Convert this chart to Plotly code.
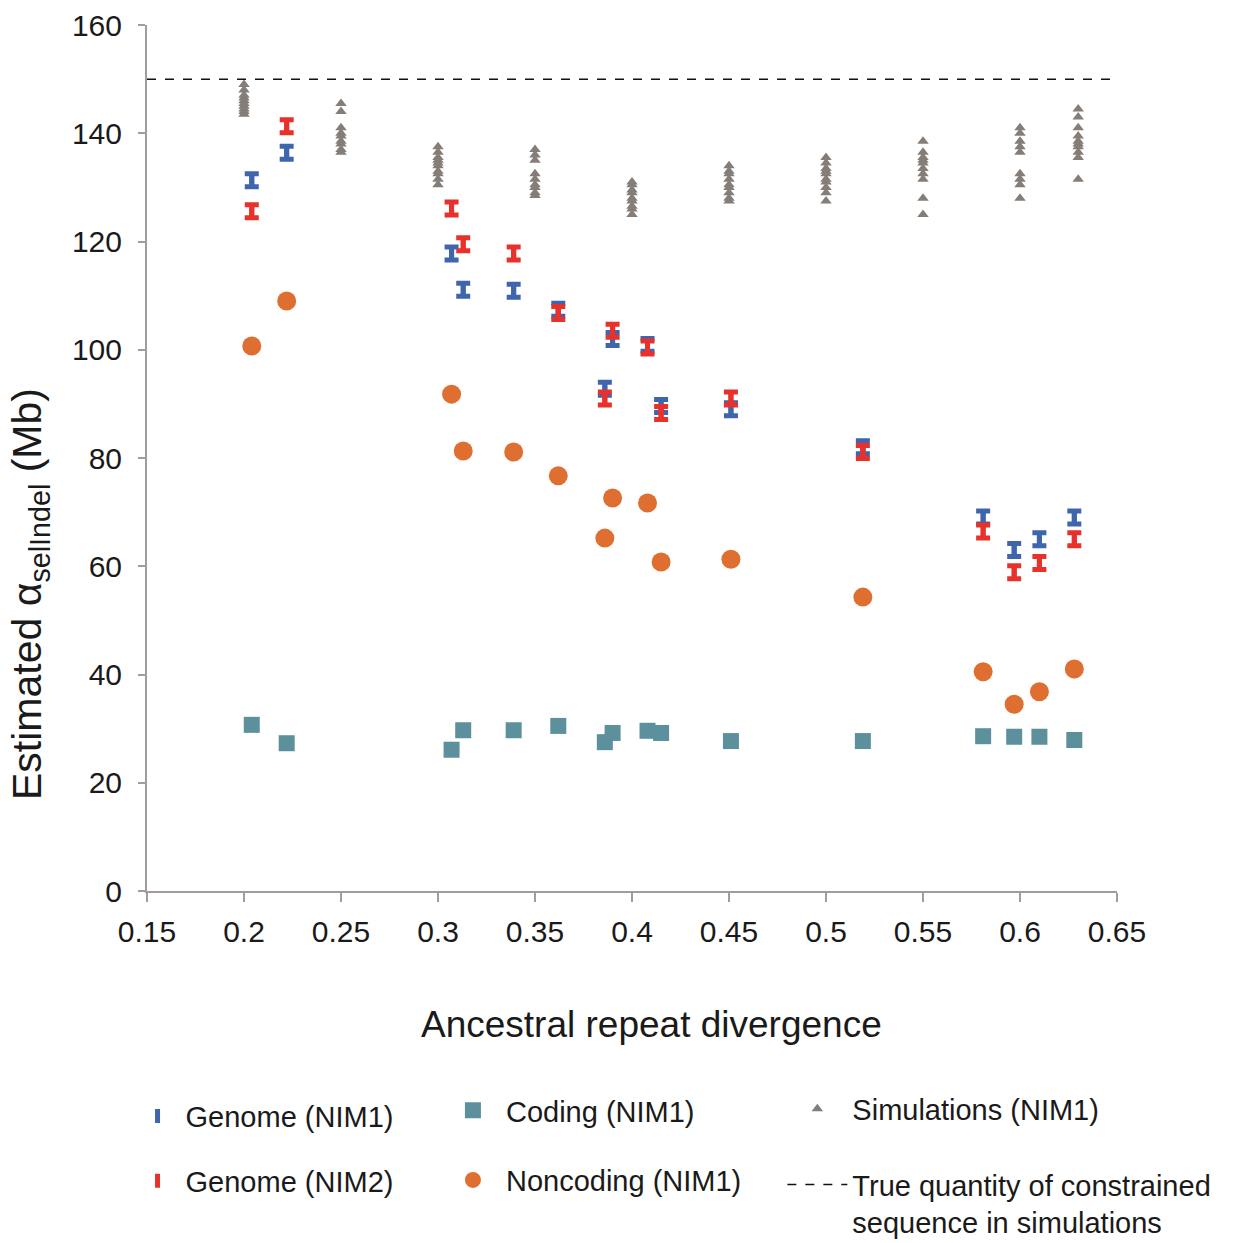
import plotly.graph_objects as go

# Ancestral repeat divergence of each lineage comparison
divergence = [0.204, 0.222, 0.307, 0.313, 0.339, 0.362, 0.386, 0.390,
              0.408, 0.415, 0.451, 0.519, 0.581, 0.597, 0.610, 0.628]

# Estimated constrained sequence (Mb)
genome_nim1 = [131.3, 136.4, 117.8, 111.1, 110.9, 107.4, 92.8, 102.0,
               100.9, 89.6, 89.0, 82.0, 69.0, 63.0, 65.0, 69.0]
genome_nim2 = [125.6, 141.3, 126.1, 119.5, 117.8, 106.8, 91.0, 103.5,
               100.4, 88.3, 91.0, 81.1, 66.4, 58.9, 60.6, 65.0]
genome_nim1_err = [1.2, 1.2, 1.2, 1.2, 1.2, 1.2, 1.2, 1.2,
                   1.2, 1.2, 1.2, 1.2, 1.2, 1.2, 1.2, 1.2]
genome_nim2_err = [1.2, 1.2, 1.2, 1.2, 1.2, 1.2, 1.2, 1.2,
                   1.2, 1.2, 1.2, 1.2, 1.2, 1.2, 1.2, 1.2]
coding_nim1 = [30.7, 27.3, 26.1, 29.7, 29.7, 30.5, 27.5, 29.2,
               29.6, 29.2, 27.7, 27.7, 28.6, 28.5, 28.5, 27.9]
noncoding_nim1 = [100.7, 109.0, 91.8, 81.3, 81.1, 76.7, 65.2, 72.6,
                  71.7, 60.8, 61.3, 54.3, 40.5, 34.5, 36.8, 41.0]

# Simulated data sets: divergence and the estimates from replicate runs
sim_divergence = [0.20, 0.25, 0.30, 0.35, 0.40, 0.45, 0.50, 0.55, 0.60, 0.63]
sim_estimates = [
    [149.0, 148.0, 147.0, 146.5, 146.0, 145.5, 145.0, 144.5, 144.0, 143.5],
    [145.5, 144.0, 141.0, 140.0, 139.5, 138.5, 138.0, 137.0, 136.5],
    [137.5, 136.5, 135.5, 135.0, 134.5, 134.0, 133.0, 132.5, 131.5, 130.5],
    [137.0, 136.0, 135.0, 132.5, 131.5, 130.5, 130.0, 129.0, 128.5],
    [131.0, 130.5, 129.5, 129.0, 128.0, 127.5, 126.5, 126.0, 125.0],
    [134.0, 133.0, 132.5, 131.5, 130.5, 130.0, 129.0, 128.0, 127.5],
    [135.5, 134.5, 133.5, 133.0, 132.5, 131.5, 131.0, 130.0, 129.0, 127.5],
    [138.5, 136.5, 135.5, 135.0, 134.5, 133.5, 132.5, 131.5, 128.0, 125.0],
    [141.0, 140.0, 138.5, 137.5, 136.5, 132.5, 131.5, 130.5, 128.0],
    [144.5, 143.0, 141.0, 139.5, 138.5, 138.0, 137.5, 136.5, 135.5, 131.5],
]
true_quantity = 150.0
x_range = [0.15, 0.65]

x_tickvals = [0.15, 0.2, 0.25, 0.3, 0.35, 0.4, 0.45, 0.5, 0.55, 0.6, 0.65]
x_ticktext = ["0.15", "0.2", "0.25", "0.3", "0.35", "0.4", "0.45", "0.5", "0.55", "0.6", "0.65"]

BLUE = "#3f66ad"
RED = "#e8312b"
TEAL = "#5b909c"
ORANGE = "#df6f31"
GREY = "#857d78"
AXIS = "#a39c9c"
TEXT = "#1a1a1a"
FONT = "Liberation Sans, Arial, sans-serif"

sim_x = [d for d, vals in zip(sim_divergence, sim_estimates) for _ in vals]
sim_y = [v for vals in sim_estimates for v in vals]

fig = go.Figure()

fig.add_trace(go.Scatter(
    x=sim_x, y=sim_y, mode="markers", name="Simulations (NIM1)",
    marker=dict(symbol="triangle-up", size=10, color=GREY),
    legend="legend3", legendgroup="sim",
))
fig.add_trace(go.Scatter(
    x=x_range, y=[true_quantity, true_quantity], mode="lines",
    name="True quantity of constrained<br>sequence in simulations",
    line=dict(color="#111111", width=1.5, dash="dash"),
    legend="legend3", legendgroup="true",
))
fig.add_trace(go.Scatter(
    x=divergence, y=coding_nim1, mode="markers", name="Coding (NIM1)",
    marker=dict(symbol="square", size=16, color=TEAL),
    legend="legend2", legendgroup="coding",
))
fig.add_trace(go.Scatter(
    x=divergence, y=noncoding_nim1, mode="markers", name="Noncoding (NIM1)",
    marker=dict(symbol="circle", size=19, color=ORANGE),
    legend="legend2", legendgroup="noncoding",
))
fig.add_trace(go.Scatter(
    x=divergence, y=genome_nim1, mode="markers", name="Genome (NIM1)",
    marker=dict(symbol="line-ns", size=10, color=BLUE, line=dict(width=5, color=BLUE)),
    error_y=dict(type="data", array=genome_nim1_err, visible=True,
                 color=BLUE, thickness=5, width=7),
    legend="legend", legendgroup="g1",
))
fig.add_trace(go.Scatter(
    x=divergence, y=genome_nim2, mode="markers", name="Genome (NIM2)",
    marker=dict(symbol="line-ns", size=10, color=RED, line=dict(width=5, color=RED)),
    error_y=dict(type="data", array=genome_nim2_err, visible=True,
                 color=RED, thickness=5, width=7),
    legend="legend", legendgroup="g2",
))

legend_common = dict(
    orientation="v", xanchor="left", yanchor="top",
    bgcolor="rgba(0,0,0,0)", font=dict(family=FONT, size=29, color=TEXT),
    valign="top",
)

fig.update_layout(
    width=1247, height=1243,
    margin=dict(l=147, r=130, t=25, b=352, autoexpand=False),
    plot_bgcolor="white", paper_bgcolor="white",
    font=dict(family=FONT, size=29, color=TEXT),
    showlegend=True,
    legend=dict(x=-0.018, y=-0.2305, itemwidth=46, tracegroupgap=24, **legend_common),
    legend2=dict(x=0.302, y=-0.2239, itemwidth=56, tracegroupgap=29, **legend_common),
    legend3=dict(x=0.655, y=-0.2222, itemwidth=60, tracegroupgap=35, **legend_common),
    xaxis=dict(
        range=x_range, tickvals=x_tickvals, ticktext=x_ticktext,
        showline=True, linecolor=AXIS, linewidth=2, automargin=False,
        ticks="outside", ticklen=9, tickwidth=1.5, tickcolor=AXIS,
        showgrid=False, zeroline=False, ticklabelstandoff=4,
        tickfont=dict(family=FONT, size=30, color=TEXT),
    ),
    yaxis=dict(
        range=[0, 160], dtick=20, tick0=0,
        showline=True, linecolor=AXIS, linewidth=2, automargin=False,
        ticks="outside", ticklen=7, tickwidth=1.5, tickcolor=AXIS,
        showgrid=False, zeroline=False, ticklabelstandoff=10,
        tickfont=dict(family=FONT, size=30, color=TEXT),
    ),
    annotations=[
        dict(text="Ancestral repeat divergence", xref="paper", yref="paper",
             x=0.5206, y=-0.154, xanchor="center", yanchor="middle",
             showarrow=False, font=dict(family=FONT, size=37, color=TEXT)),
        dict(text="Estimated α<sub>selIndel</sub> (Mb)", xref="paper", yref="paper",
             x=-0.1206, y=0.343, xanchor="center", yanchor="middle", textangle=-90,
             showarrow=False, font=dict(family=FONT, size=41, color=TEXT)),
    ],
)

fig.write_html("out.html")
